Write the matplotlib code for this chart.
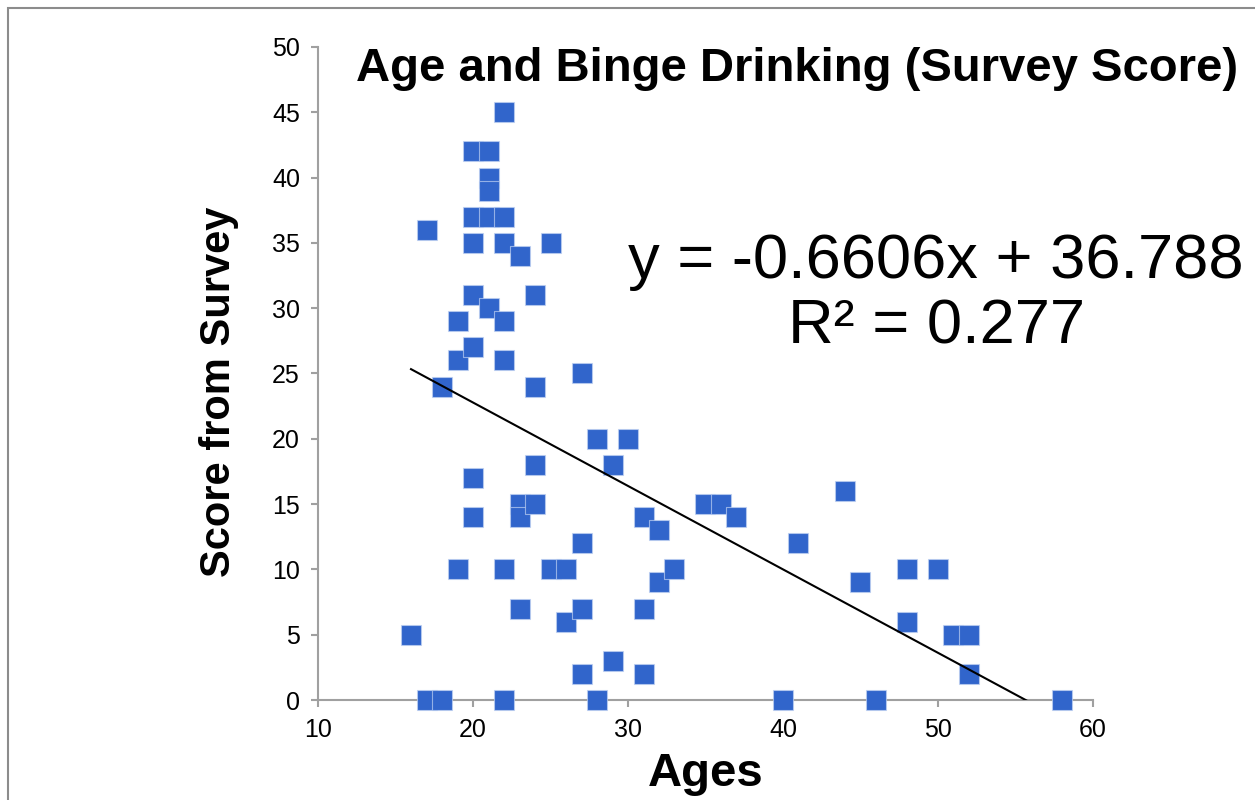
import matplotlib
matplotlib.use("Agg")
from matplotlib import pyplot as plt
from matplotlib.patches import Rectangle
import numpy as np

# Data
ages = [16, 17, 17, 18, 18, 19, 19, 19,
        20, 20, 20, 20, 20, 20, 20,
        21, 21, 21, 21, 21,
        22, 22, 22, 22, 22, 22, 22,
        23, 23, 23, 23, 24, 24, 24, 24,
        25, 25, 26, 26, 27, 27, 27, 27,
        28, 28, 29, 29, 30, 31, 31, 31,
        32, 32, 33, 35, 36, 37, 40, 41,
        44, 45, 46, 48, 48, 50, 51, 52, 52, 58]
scores = [5, 0, 36, 0, 24, 29, 26, 10,
          42, 37, 35, 31, 27, 17, 14,
          42, 40, 39, 37, 30,
          45, 37, 35, 29, 26, 10, 0,
          34, 15, 14, 7, 31, 24, 18, 15,
          35, 10, 10, 6, 25, 12, 7, 2,
          20, 0, 18, 3, 20, 14, 7, 2,
          13, 9, 10, 15, 15, 14, 0, 12,
          16, 9, 0, 10, 6, 10, 5, 5, 2, 0]

title = "Age and Binge Drinking (Survey Score)"
eq_text = "y = -0.6606x + 36.788\nR² = 0.277"

plt.rcParams['font.family'] = ['Liberation Sans', 'DejaVu Sans']

fig = plt.figure(figsize=(12.55, 8), dpi=100)
ax = fig.add_axes([0.2534, 0.125, 0.6175, 0.8163])

# outer frame of the chart area
fig.patches.append(Rectangle((8 / 1255, -0.5), 2, 0.5 + 1 - 8 / 800,
                             transform=fig.transFigure, fill=False,
                             edgecolor="#8c8c8c", linewidth=1.5))

ax.scatter(ages, scores, marker="s", s=215, color="#3165cb",
           edgecolors=(0.75, 0.82, 0.95, 0.7), linewidths=0.8, zorder=3,
           clip_on=False)

# linear trendline
slope, icpt = np.polyfit(ages, scores, 1)
xs = np.array([min(ages), max(ages)])
ax.plot(xs, slope * xs + icpt, color="black", linewidth=1.5, zorder=4)

ax.set_xlim(10, 60)
ax.set_ylim(0, 50)
ax.set_xticks(range(10, 61, 10))
ax.set_yticks(range(0, 51, 5))

for s in ["top", "right"]:
    ax.spines[s].set_visible(False)
for s in ["left", "bottom"]:
    ax.spines[s].set_color("#a0a0a0")
    ax.spines[s].set_linewidth(1.5)
ax.tick_params(colors="#a0a0a0", labelcolor="black", labelsize=18,
               length=5, width=1.5, direction="out")
ax.tick_params(axis="y", pad=8)
ax.tick_params(axis="x", pad=8)

ax.set_xlabel("Ages", fontsize=34, fontweight="bold", labelpad=7)
ax.set_ylabel("Score from Survey", fontsize=30, fontweight="bold", labelpad=24)
ax.yaxis.label.set_y(0.472)

fig.text(0.635, 0.914, title, fontsize=34, fontweight="bold",
         ha="center", va="center")
fig.text(0.746, 0.632, eq_text, fontsize=45.5, ha="center", va="center",
         linespacing=1.15)

fig.savefig("out.png", dpi=100)
